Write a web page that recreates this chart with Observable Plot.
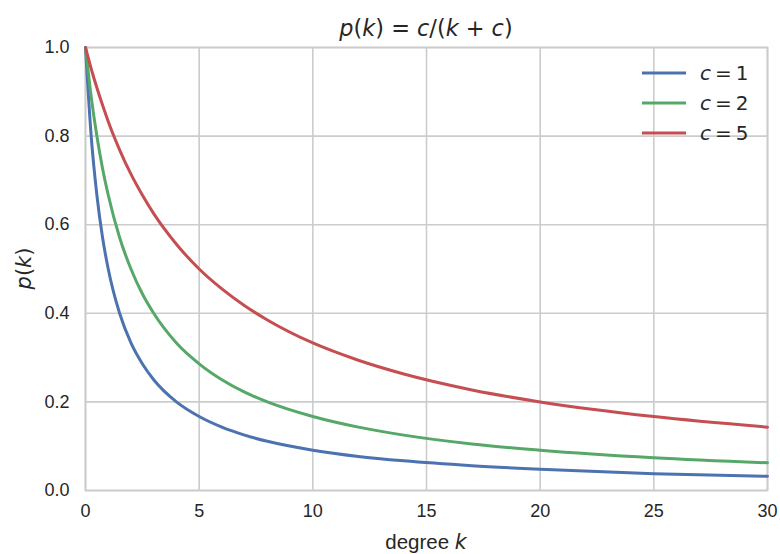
<!DOCTYPE html>
<html>
<head>
<meta charset="utf-8">
<script src="https://cdn.jsdelivr.net/npm/d3@7"></script>
<script src="https://cdn.jsdelivr.net/npm/@observablehq/plot@0.6"></script>
<style>
  html, body { margin: 0; padding: 0; background: #fff; }
  #chart svg { display: block; }
</style>
</head>
<body>
<div id="chart"></div>
<script>
// Degree values k (sample positions)
const kValues = [0, 0.25, 0.5, 0.75, 1, 1.5, 2, 2.5, 3, 4, 5, 6, 7, 8, 10, 12, 14, 17, 20, 25, 30];
// Series values p(k)
const pC1 = [1.0, 0.80, 0.667, 0.571, 0.5, 0.4, 0.333, 0.286, 0.25, 0.2, 0.167, 0.143, 0.125, 0.111, 0.091, 0.077, 0.067, 0.056, 0.048, 0.038, 0.032];
const pC2 = [1.0, 0.889, 0.8, 0.727, 0.667, 0.571, 0.5, 0.444, 0.4, 0.333, 0.286, 0.25, 0.222, 0.2, 0.167, 0.143, 0.125, 0.105, 0.091, 0.074, 0.0625];
const pC5 = [1.0, 0.952, 0.909, 0.87, 0.833, 0.769, 0.714, 0.667, 0.625, 0.556, 0.5, 0.455, 0.417, 0.385, 0.333, 0.294, 0.263, 0.227, 0.2, 0.167, 0.143];
const seriesNames = ["1", "2", "5"];
const seriesColors = ["#4c72b0", "#55a868", "#c44e52"];
const xTicks = [0, 5, 10, 15, 20, 25, 30];
const yTicks = [0, 0.2, 0.4, 0.6, 0.8, 1.0];

const seriesValues = [pC1, pC2, pC5];
const data = [];
seriesNames.forEach((c, i) => {
  kValues.forEach((k, j) => data.push({k, p: seriesValues[i][j], c}));
});

const textColor = "#262626";
const tickFont = "'Liberation Sans', Arial, sans-serif";
const mathFont = "'DejaVu Sans', sans-serif";

const W = 780, H = 554;
const mL = 85, mR = 13, mT = 47, mB = 64;

const plot = Plot.plot({
  width: W,
  height: H,
  marginLeft: mL,
  marginRight: mR,
  marginTop: mT,
  marginBottom: mB,
  style: { fontFamily: tickFont, fontSize: "18px", color: textColor, background: "#fff" },
  x: { domain: [0, 30] },
  y: { domain: [0, 1] },
  color: { domain: seriesNames, range: seriesColors },
  marks: [
    Plot.gridX(xTicks, { stroke: "#cccccc", strokeOpacity: 1, strokeWidth: 1.6 }),
    Plot.gridY(yTicks, { stroke: "#cccccc", strokeOpacity: 1, strokeWidth: 1.6 }),
    Plot.frame({ stroke: "#cccccc", strokeWidth: 1.8 }),
    Plot.axisX(xTicks, { tickSize: 0, tickPadding: 14, fontSize: 18, label: null, fill: textColor }),
    Plot.axisY(yTicks, { tickSize: 0, tickPadding: 16, fontSize: 18, label: null, tickFormat: d3.format(".1f"), fill: textColor }),
    Plot.line(data, { x: "k", y: "p", z: "c", stroke: "c", curve: "monotone-x", strokeWidth: 3 })
  ]
});

document.getElementById("chart").appendChild(plot);

const svg = d3.select(plot);

function mathText(sel, parts) {
  parts.forEach(([t, it]) => {
    sel.append("tspan").attr("font-style", it ? "italic" : "normal").text(t);
  });
}

// Title
const cx = mL + (W - mL - mR) / 2;
const title = svg.append("text")
  .attr("x", cx).attr("y", 36)
  .attr("text-anchor", "middle")
  .attr("font-family", mathFont).attr("font-size", 22.4)
  .attr("fill", textColor);
mathText(title, [["p", 1], ["(", 0], ["k", 1], [")", 0], [" = ", 0], ["c", 1], ["/", 0], ["(", 0], ["k", 1], [" + ", 0], ["c", 1], [")", 0]]);

// X label
const xl = svg.append("text")
  .attr("x", cx).attr("y", 549)
  .attr("text-anchor", "middle")
  .attr("font-size", 20.5).attr("fill", textColor)
  .attr("font-family", tickFont);
xl.append("tspan").text("degree ");
xl.append("tspan").attr("font-family", mathFont).attr("font-style", "italic").text("k");

// Y label
const yl = svg.append("text")
  .attr("transform", `translate(31, ${mT + (H - mT - mB) / 2}) rotate(-90)`)
  .attr("text-anchor", "middle")
  .attr("font-family", mathFont).attr("font-size", 21)
  .attr("fill", textColor);
mathText(yl, [["p", 1], ["(", 0], ["k", 1], [")", 0]]);

// Legend
const lg = svg.append("g").attr("transform", "translate(642, 73)");
seriesNames.forEach((c, i) => {
  const g = lg.append("g").attr("transform", `translate(0, ${i * 30})`);
  g.append("line").attr("x1", 0).attr("x2", 44).attr("y1", 0).attr("y2", 0)
    .attr("stroke", seriesColors[i]).attr("stroke-width", 3);
  const t = g.append("text").attr("x", 58).attr("y", 7)
    .attr("text-anchor", "start")
    .attr("font-family", mathFont).attr("font-size", 20).attr("fill", textColor);
  mathText(t, [["c", 1], ["\u2009=\u2009", 0], [c, 0]]);
});
</script>
</body>
</html>
